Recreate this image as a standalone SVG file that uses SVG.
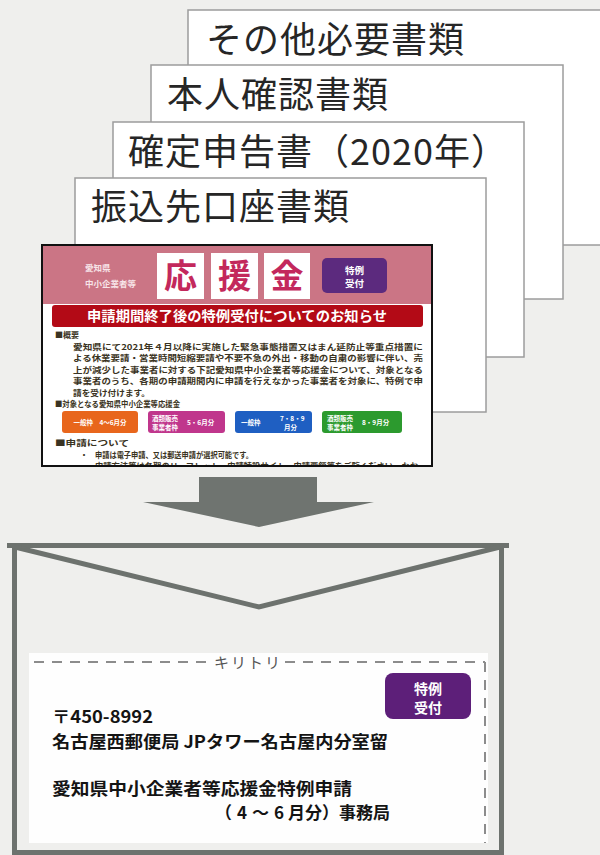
<svg xmlns="http://www.w3.org/2000/svg" width="600" height="855" viewBox="0 0 600 855">
<defs>
<style>
.jp{font-family:"Noto Sans CJK JP","Noto Sans",sans-serif}
.paper{fill:#ffffff;stroke:#9c9c9c;stroke-width:1.5}
.ptxt{font-family:"Noto Sans CJK JP","Noto Sans",sans-serif;font-size:36px;fill:#262626;letter-spacing:1px}
.body{font-family:"Noto Sans CJK JP",sans-serif;font-size:8px;font-weight:700;fill:#3a3322}
.tag{font-family:"Noto Sans CJK JP",sans-serif;font-size:6.5px;font-weight:700;fill:#ffffff}
.env{fill:none;stroke:#6d726e;stroke-width:5}
.addr{font-family:"Noto Sans CJK JP",sans-serif;font-size:17px;font-weight:700;fill:#141414}
.cut{fill:none;stroke:#8c8c8c;stroke-width:2;stroke-dasharray:10 8}
</style>
<clipPath id="flyclip"><rect x="42" y="245" width="390" height="220"/></clipPath>
</defs>
<rect width="600" height="855" fill="#efefed"/>

<g id="paper-other">
<rect class="paper" x="188" y="10" width="450" height="235"/>
<text class="ptxt" x="206" y="53">その他必要書類</text>
</g>
<g id="paper-id">
<rect class="paper" x="151" y="65" width="412" height="234"/>
<text class="ptxt" x="167" y="108">本人確認書類</text>
</g>
<g id="paper-tax">
<rect class="paper" x="113" y="122" width="411" height="235"/>
<text class="ptxt" x="128" y="165">確定申告書（2020年）</text>
</g>
<g id="paper-bank">
<rect class="paper" x="75" y="178" width="411" height="234"/>
<text class="ptxt" x="91" y="220">振込先口座書類</text>
</g>

<g id="flyer">
<rect x="42" y="245" width="390" height="221" fill="#ffffff"/>
<g clip-path="url(#flyclip)">
<rect x="42" y="245" width="390" height="59" fill="#cb7585"/>
<text class="jp" x="85" y="271" font-size="8.5" font-weight="700" fill="#f7e4e8">愛知県</text>
<text class="jp" x="85" y="287" font-size="8.5" font-weight="700" fill="#f7e4e8">中小企業者等</text>
<rect x="157" y="253" width="47" height="46" fill="#ffffff"/>
<rect x="211" y="253" width="47" height="46" fill="#ffffff"/>
<rect x="264" y="253" width="46" height="46" fill="#ffffff"/>
<g class="jp" font-size="33" font-weight="700" fill="#c3285c" text-anchor="middle">
<text x="180.5" y="288">応</text>
<text x="234.5" y="288">援</text>
<text x="287" y="288">金</text>
</g>
<rect x="322" y="258" width="65" height="35" rx="5" fill="#5c2a7e"/>
<text class="jp" x="354.5" y="274" font-size="9.5" font-weight="700" fill="#ffffff" text-anchor="middle">特例</text>
<text class="jp" x="354.5" y="287" font-size="9.5" font-weight="700" fill="#ffffff" text-anchor="middle">受付</text>
<rect x="52" y="305" width="371" height="22" rx="3" fill="#b30a16"/>
<text class="jp" x="87" y="321" font-size="14" font-weight="700" fill="#ffffff" textLength="300" lengthAdjust="spacingAndGlyphs">申請期間終了後の特例受付についてのお知らせ</text>
<text class="body" x="55" y="338">■概要</text>
<text class="body" x="73" y="349.5" textLength="350" lengthAdjust="spacingAndGlyphs">愛知県にて2021年４月以降に実施した緊急事態措置又はまん延防止等重点措置に</text>
<text class="body" x="73" y="361" textLength="350" lengthAdjust="spacingAndGlyphs">よる休業要請・営業時間短縮要請や不要不急の外出・移動の自粛の影響に伴い、売</text>
<text class="body" x="73" y="372.5" textLength="350" lengthAdjust="spacingAndGlyphs">上が減少した事業者に対する下記愛知県中小企業者等応援金について、対象となる</text>
<text class="body" x="73" y="384" textLength="350" lengthAdjust="spacingAndGlyphs">事業者のうち、各期の申請期間内に申請を行えなかった事業者を対象に、特例で申</text>
<text class="body" x="73" y="395.5" textLength="77" lengthAdjust="spacingAndGlyphs">請を受け付けます。</text>
<text class="body" x="55" y="407" textLength="125" lengthAdjust="spacingAndGlyphs">■対象となる愛知県中小企業等応援金</text>
<rect x="62" y="411" width="76" height="22" rx="3" fill="#e8661c"/>
<text class="tag" x="100" y="424.5" text-anchor="middle">一般枠　4～6月分</text>
<rect x="148" y="411" width="77" height="22" rx="3" fill="#c0368c"/>
<text class="tag" x="152" y="420.5">酒類販売</text>
<text class="tag" x="152" y="429.5">事業者枠</text>
<text class="tag" x="187" y="425">5・6月分</text>
<rect x="235" y="411" width="77" height="22" rx="3" fill="#1f5fc2"/>
<text class="tag" x="241" y="425">一般枠</text>
<text class="tag" x="280" y="420.5">7・8・9</text>
<text class="tag" x="284" y="429.5">月分</text>
<rect x="322" y="411" width="80" height="22" rx="3" fill="#2c9a2e"/>
<text class="tag" x="327" y="420.5">酒類販売</text>
<text class="tag" x="327" y="429.5">事業者枠</text>
<text class="tag" x="362" y="425">8・9月分</text>
<text class="body" x="55" y="446" font-size="9" textLength="74" lengthAdjust="spacingAndGlyphs">■申請について</text>
<text class="body" x="80" y="457.5" font-size="7.5">・</text>
<text class="body" x="95" y="457.5" font-size="7.5" textLength="158" lengthAdjust="spacingAndGlyphs">申請は電子申請、又は郵送申請が選択可能です。</text>
<text class="body" x="80" y="468.5" font-size="7.5">・</text>
<text class="body" x="95" y="468.5" font-size="7.5" textLength="323" lengthAdjust="spacingAndGlyphs">申請方法等は各期のリーフレット、申請特設サイト、申請要領等をご覧ください。なお</text>
</g>
<rect x="42" y="245" width="390" height="221" fill="none" stroke="#111111" stroke-width="2"/>
</g>

<g id="connectors">
<polygon points="199,477 317,477 317,502 374,502 259,527 143,502 199,502" fill="#6f7470"/>
</g>

<g id="envelope">
<rect x="29" y="653" width="459" height="190" fill="#fefefe"/>
<rect class="env" x="14.5" y="545.5" width="487" height="307"/>
<line class="env" x1="7" y1="545.5" x2="509" y2="545.5"/>
<polyline class="env" points="15,547 259,607 500,547" stroke-linejoin="miter"/>
<line class="cut" x1="34" y1="662" x2="212" y2="662"/>
<line class="cut" x1="285" y1="662" x2="485" y2="662"/>
<line class="cut" x1="485" y1="662" x2="485" y2="843"/>
<text class="jp" x="248" y="668" font-size="15" fill="#555555" text-anchor="middle" letter-spacing="2">キリトリ</text>
<rect x="385" y="673" width="86" height="46" rx="8" fill="#5d1f79"/>
<text class="jp" x="428" y="694" font-size="14" font-weight="700" fill="#ffffff" text-anchor="middle">特例</text>
<text class="jp" x="428" y="713" font-size="14" font-weight="700" fill="#ffffff" text-anchor="middle">受付</text>
<text class="addr" x="52" y="723" textLength="101" lengthAdjust="spacingAndGlyphs">〒450-8992</text>
<text class="addr" x="52" y="748" textLength="336" lengthAdjust="spacingAndGlyphs">名古屋西郵便局 JPタワー名古屋内分室留</text>
<text class="addr" x="52" y="795" textLength="300" lengthAdjust="spacingAndGlyphs">愛知県中小企業者等応援金特例申請</text>
<text class="addr" x="390" y="819" text-anchor="end">（<tspan dx="5">4</tspan><tspan dx="5">～</tspan><tspan dx="5">6</tspan><tspan dx="4">月分）事務局</tspan></text>
</g>
</svg>
